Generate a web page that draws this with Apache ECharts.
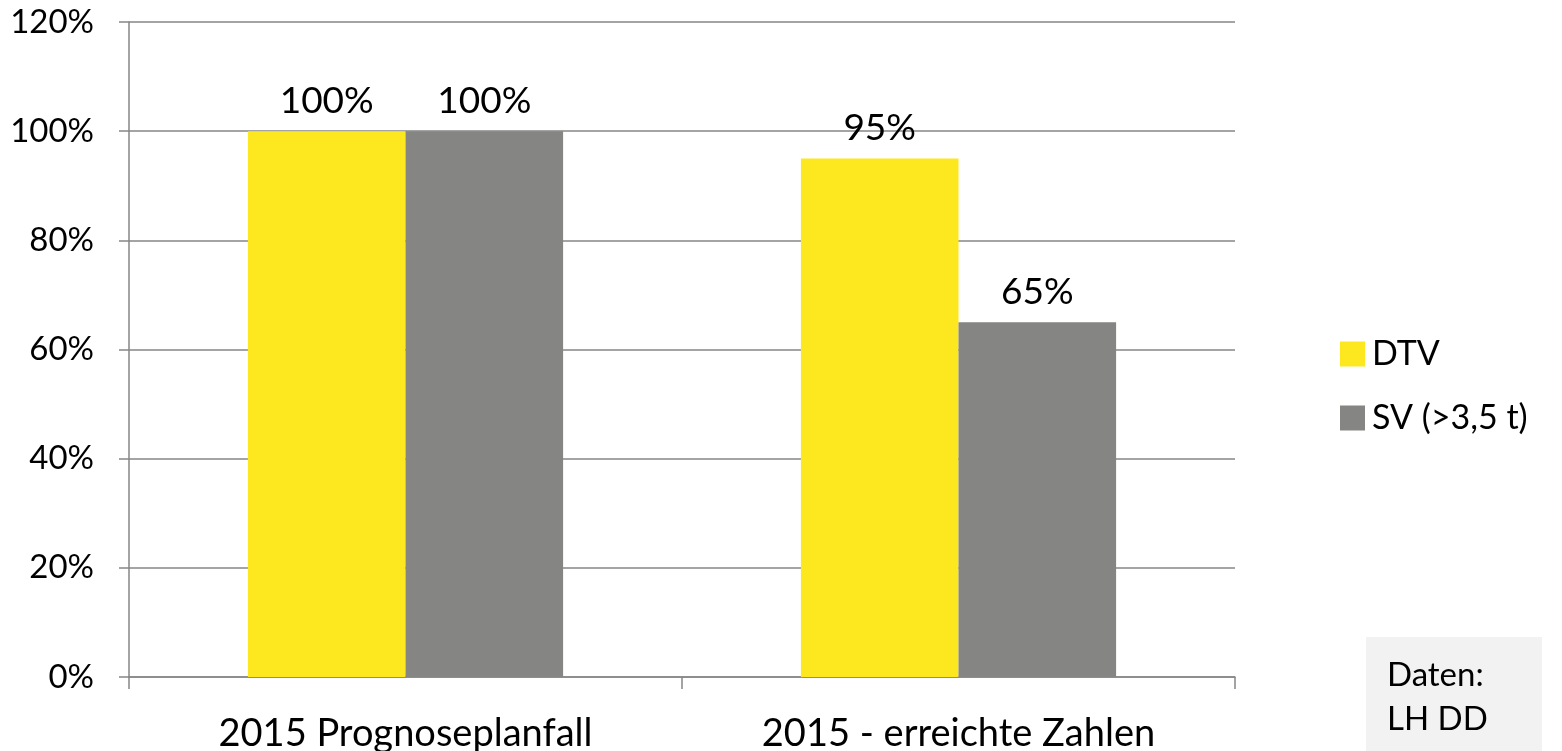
<!DOCTYPE html>
<html><head><meta charset="utf-8">
<script src="https://cdn.jsdelivr.net/npm/echarts@6/dist/echarts.min.js"></script>
<style>html,body{margin:0;padding:0;background:#fff}#c{width:1562px;height:751px}</style>
</head><body><div id="c"></div>
<script>
const categories = ['2015 Prognoseplanfall', '2015 - erreichte Zahlen'];
const seriesNames = ['DTV', 'SV (>3,5 t)'];
const dtvValues = [100, 95];
const svValues = [100, 65];
const yTicks = [0, 20, 40, 60, 80, 100, 120];
const noteLines = ['Daten:', 'LH DD'];

const FONT = 'Lato, "Open Sans", sans-serif';
const chart = echarts.init(document.getElementById('c'));
chart.setOption({
  animation: false,
  textStyle: { fontFamily: FONT },
  grid: { left: 129, right: 327, top: 22, bottom: 74, containLabel: false, outerBoundsMode: 'none' },
  legend: {
    orient: 'vertical', left: 1335, top: 332,
    itemWidth: 25, itemHeight: 25, itemGap: 30,
    icon: 'rect',
    textStyle: { fontSize: 34, color: '#000', fontFamily: FONT, padding: [0, 0, 0, 2] },
    data: seriesNames
  },
  xAxis: {
    type: 'category', data: categories,
    axisLine: { lineStyle: { color: '#868686', width: 1.5 } },
    axisTick: { show: true, length: 12, lineStyle: { color: '#868686', width: 1.5 } },
    axisLabel: { fontSize: 38, color: '#000', margin: 38, fontFamily: FONT }
  },
  yAxis: {
    type: 'value', min: 0, max: 120, interval: 20,
    axisLine: { show: true, lineStyle: { color: '#868686', width: 1.5 } },
    axisTick: { show: true, length: 10, lineStyle: { color: '#868686', width: 1.5 } },
    splitLine: { lineStyle: { color: '#868686', width: 1.5 } },
    axisLabel: { fontSize: 33, color: '#000', margin: 35, fontFamily: FONT,
      formatter: v => yTicks.includes(v) ? v + '%' : '' }
  },
  series: [
    { name: seriesNames[0], type: 'bar', data: dtvValues, barGap: '0%', barCategoryGap: '43%',
      itemStyle: { color: '#FDE81F' },
      label: { show: true, position: 'top', fontSize: 37, color: '#000', distance: 12, fontFamily: FONT, formatter: p => p.value + '%' } },
    { name: seriesNames[1], type: 'bar', data: svValues, barGap: '0%', barCategoryGap: '43%',
      itemStyle: { color: '#858583' },
      label: { show: true, position: 'top', fontSize: 37, color: '#000', distance: 12, fontFamily: FONT, formatter: p => p.value + '%' } }
  ],
  graphic: [
    { type: 'rect', left: 1366, top: 637, shape: { width: 176, height: 114 }, style: { fill: '#F2F2F2' } },
    { type: 'text', left: 1387, top: 653, style: { text: noteLines.join('\n'), font: '33px ' + FONT, fill: '#000', lineHeight: 44 } }
  ]
});
</script></body></html>
